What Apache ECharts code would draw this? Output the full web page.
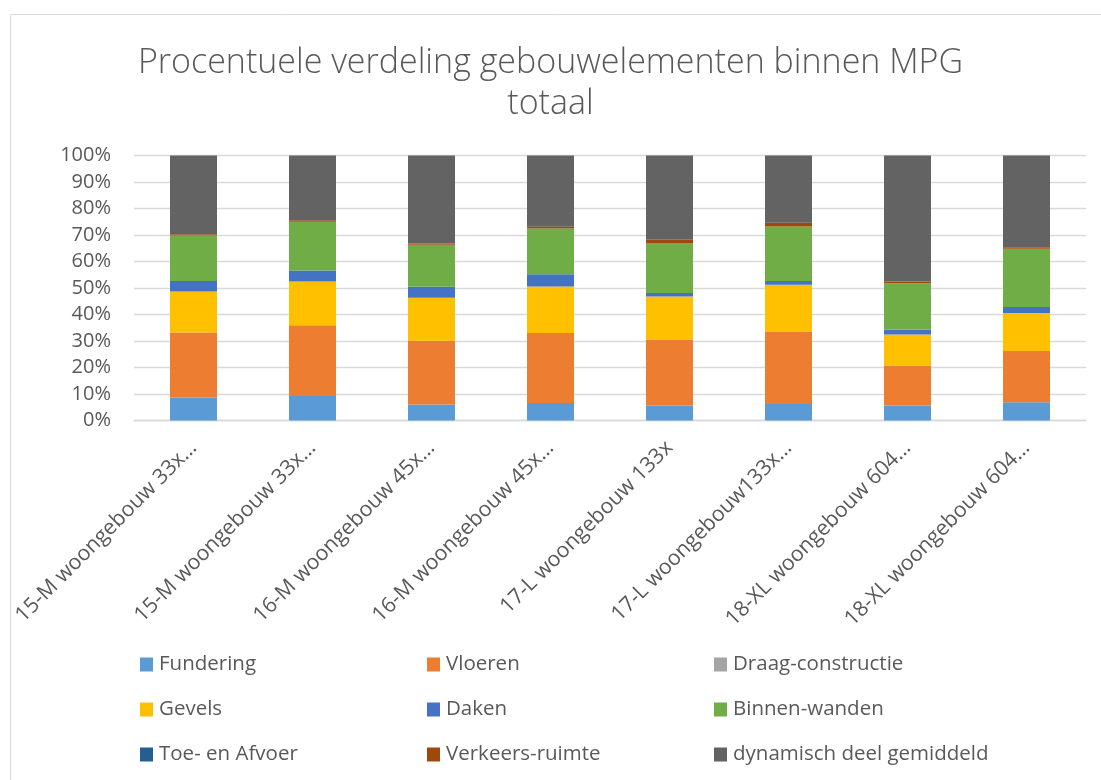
<!DOCTYPE html>
<html>
<head>
<meta charset="utf-8">
<script src="https://cdn.jsdelivr.net/npm/echarts@6/dist/echarts.min.js"></script>
<style>
  html, body { margin: 0; padding: 0; background: #fff; }
  #chart { width: 1101px; height: 780px; }
</style>
</head>
<body>
<div id="chart"></div>
<script>
// categories (labels truncated as in the original)
const categories = [
  '15-M woongebouw 33x…', '15-M woongebouw 33x…',
  '16-M woongebouw 45x…', '16-M woongebouw 45x…',
  '17-L woongebouw 133x', '17-L woongebouw133x…',
  '18-XL woongebouw 604…', '18-XL woongebouw 604…'
];

// percentages per building element
const fundering      = [8.7, 9.2, 6.0, 6.6, 5.7, 6.2, 5.7, 6.9];
const vloeren        = [24.5, 26.7, 24.1, 26.4, 24.9, 27.4, 15.1, 19.3];
const draagConstr    = [0, 0, 0, 0, 0, 0, 0, 0];
const gevels         = [15.5, 16.6, 16.2, 17.6, 16.2, 17.6, 11.7, 14.4];
const daken          = [3.9, 4.1, 4.2, 4.6, 1.3, 1.4, 1.8, 2.2];
const binnenWanden   = [17.2, 18.4, 15.8, 17.3, 18.7, 20.6, 17.5, 22.0];
const toeAfvoer      = [0, 0, 0, 0, 0, 0, 0, 0];
const verkeersRuimte = [0.5, 0.6, 0.5, 0.6, 1.4, 1.4, 0.7, 0.6];
const dynamisch      = [29.7, 24.4, 33.2, 26.9, 31.8, 25.4, 47.5, 34.6];

const yTicks = [0, 10, 20, 30, 40, 50, 60, 70, 80, 90, 100];

const seriesDefs = [
  ['Fundering', fundering, '#5B9BD5'],
  ['Vloeren', vloeren, '#ED7D31'],
  ['Draag-constructie', draagConstr, '#A5A5A5'],
  ['Gevels', gevels, '#FFC000'],
  ['Daken', daken, '#4472C4'],
  ['Binnen-wanden', binnenWanden, '#70AD47'],
  ['Toe- en Afvoer', toeAfvoer, '#255E91'],
  ['Verkeers-ruimte', verkeersRuimte, '#9E480E'],
  ['dynamisch deel gemiddeld', dynamisch, '#636363']
];

const font = '"Open Sans", sans-serif';
const textColor = '#595959';

let myChart = echarts.init(document.getElementById('chart'));

function legendCol(left, names) {
  return {
    orient: 'vertical',
    left: left,
    top: 654,
    padding: 0,
    itemWidth: 13,
    itemHeight: 14,
    itemGap: 24,
    icon: 'rect',
    selectedMode: false,
    data: names,
    textStyle: { fontFamily: font, fontSize: 20.5, color: textColor, padding: [0, 0, 0, 1] }
  };
}

const option = {
  animation: false,
  title: {
    text: 'Procentuele verdeling gebouwelementen binnen MPG\ntotaal',
    left: 'center',
    top: 43,
    padding: [0, 0, 0, 0],
    textStyle: {
      fontFamily: font,
      fontWeight: 300,
      fontSize: 34,
      lineHeight: 41,
      color: textColor
    }
  },
  legend: [
    legendCol(140, ['Fundering', 'Gevels', 'Toe- en Afvoer']),
    legendCol(427, ['Vloeren', 'Daken', 'Verkeers-ruimte']),
    legendCol(714, ['Draag-constructie', 'Binnen-wanden', 'dynamisch deel gemiddeld'])
  ],
  grid: {
    left: 134,
    right: 15,
    top: 155.5,
    bottom: 359.5
  },
  xAxis: {
    type: 'category',
    data: categories,
    axisTick: { show: false },
    axisLine: { lineStyle: { color: '#D9D9D9', width: 1.3 } },
    axisLabel: {
      rotate: 45,
      margin: 24,
      fontFamily: font,
      fontSize: 21.2,
      color: textColor
    }
  },
  yAxis: {
    type: 'value',
    min: yTicks[0],
    max: yTicks[yTicks.length - 1],
    interval: 10,
    axisLine: { show: false },
    axisTick: { show: false },
    splitLine: { lineStyle: { color: '#D9D9D9', width: 1.3 } },
    axisLabel: {
      formatter: '{value}%',
      margin: 23,
      fontFamily: font,
      fontSize: 20,
      color: textColor
    }
  },
  series: seriesDefs.map(function (d) {
    return {
      name: d[0],
      type: 'bar',
      stack: 'totaal',
      barWidth: 47,
      data: d[1],
      itemStyle: { color: d[2] }
    };
  }),
  graphic: [
    {
      type: 'rect',
      left: 8,
      top: 12,
      shape: { width: 1200, height: 900 },
      style: { fill: 'none', stroke: '#D9D9D9', lineWidth: 1 },
      silent: true,
      z: -1
    }
  ]
};

myChart.setOption(option);
</script>
</body>
</html>
